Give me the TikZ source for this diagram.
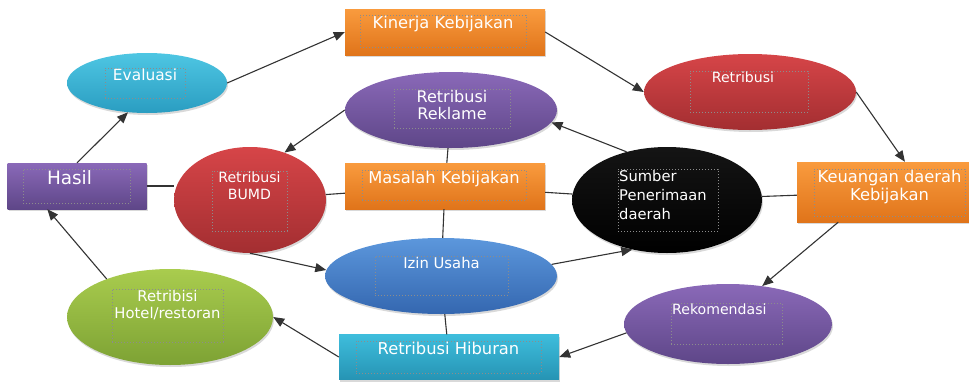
\documentclass[tikz,border=0pt]{standalone}
\usepackage{fontspec}
\setmainfont{DejaVu Sans}
\usetikzlibrary{arrows.meta,shapes.geometric,shadows}

\definecolor{orangeT}{HTML}{F99B3E}
\definecolor{orangeB}{HTML}{E0741A}
\definecolor{cyanT}{HTML}{4EC6E3}
\definecolor{cyanB}{HTML}{2A9DC1}
\definecolor{purpT}{HTML}{8A69B8}
\definecolor{purpB}{HTML}{5E4688}
\definecolor{redT}{HTML}{D64548}
\definecolor{redB}{HTML}{A32E31}
\definecolor{blueT}{HTML}{5C97DC}
\definecolor{blueB}{HTML}{3467B0}
\definecolor{greenT}{HTML}{A9CC4E}
\definecolor{greenB}{HTML}{7DA234}
\definecolor{hibT}{HTML}{3EBDDC}
\definecolor{hibB}{HTML}{2694B4}

\begin{document}
\begin{tikzpicture}[->,>={Triangle[length=11pt,width=9pt]},x=1pt,y=-1pt]
\tikzstyle{every edge}=[draw=black!80,line width=1.1pt]
\tikzstyle{box}=[rectangle,inner sep=0pt,drop shadow={opacity=.3,shadow xshift=1pt,shadow yshift=-2pt}]
\tikzstyle{oval}=[ellipse,inner sep=0pt,drop shadow={opacity=.3,shadow xshift=1pt,shadow yshift=-2pt}]
\tikzstyle{tbox}=[rectangle,inner sep=0pt,draw=black!45,dotted,line width=1pt]
\tikzstyle{lbl}=[anchor=north,inner sep=1.5pt,text=white,align=center]
\tikzstyle{bigtxt}=[font=\fontsize{16.3}{17.6}\selectfont]
\tikzstyle{midtxt}=[font=\fontsize{14.8}{17.5}\selectfont]
\tikzstyle{smalltxt}=[font=\fontsize{14.1}{17}\selectfont]

\useasboundingbox (0,0) rectangle (969,383);

% shapes
\node[box,top color=orangeT,bottom color=orangeB,minimum width=200pt,minimum height=46pt] (kinerja) at (445,32) {};
\node[oval,top color=cyanT,bottom color=cyanB,minimum width=160pt,minimum height=60pt] (evaluasi) at (147,83) {};
\node[oval,top color=purpT,bottom color=purpB,minimum width=212pt,minimum height=76pt] (reklame) at (451,110) {};
\node[oval,top color=redT,bottom color=redB,minimum width=212pt,minimum height=76pt] (retribusi) at (750,92) {};
\node[box,top color=purpT,bottom color=purpB,minimum width=139pt,minimum height=46pt] (hasil) at (77,186) {};
\node[oval,top color=redT,bottom color=redB,minimum width=152pt,minimum height=106pt] (bumd) at (250,200) {};
\node[box,top color=orangeT,bottom color=orangeB,minimum width=200pt,minimum height=46pt] (masalah) at (445,186) {};
\node[oval,top color=black!92,bottom color=black,minimum width=190pt,minimum height=106pt] (sumber) at (667,200) {};
\node[box,top color=orangeT,bottom color=orangeB,minimum width=172pt,minimum height=60pt] (keuangan) at (883,192) {};
\node[oval,top color=blueT,bottom color=blueB,minimum width=232pt,minimum height=76pt] (izin) at (441,276) {};
\node[oval,top color=greenT,bottom color=greenB,minimum width=206pt,minimum height=96pt] (hotel) at (170,317) {};
\node[box,top color=hibT,bottom color=hibB,minimum width=220pt,minimum height=45pt] (hiburan) at (449,357) {};
\node[oval,top color=purpT,bottom color=purpB,minimum width=208pt,minimum height=80pt] (rekomendasi) at (728,324) {};

% text boxes
\node[tbox,minimum width=166pt,minimum height=32pt,label={[lbl,bigtxt]north:Kinerja Kebijakan}] (kinerja-t) at (443,31) {};
\node[tbox,minimum width=80pt,minimum height=30pt,label={[lbl,font=\fontsize{15.4}{17}\selectfont]north:Evaluasi}] (evaluasi-t) at (145,83) {};
\node[tbox,minimum width=116pt,minimum height=39pt,label={[lbl,font=\fontsize{16}{17}\selectfont]north:Retribusi\\Reklame}] (reklame-t) at (452,108.5) {};
\node[tbox,minimum width=118pt,minimum height=41pt,label={[lbl,smalltxt,xshift=-6pt]north:Retribusi}] (retribusi-t) at (749,91.5) {};
\node[tbox,minimum width=107pt,minimum height=34pt,label={[lbl,font=\fontsize{18.4}{20}\selectfont,xshift=-7pt]north:Hasil}] (hasil-t) at (76.5,186) {};
\node[tbox,minimum width=75pt,minimum height=60pt,label={[lbl,smalltxt]north:Retribusi\\BUMD}] (bumd-t) at (249.5,201) {};
\node[tbox,minimum width=164pt,minimum height=30pt,label={[lbl,bigtxt]north:Masalah Kebijakan}] (masalah-t) at (444,185) {};
\node[tbox,minimum width=100pt,minimum height=62pt,label={[lbl,anchor=north west,align=left,font=\fontsize{14.7}{19}\selectfont]north west:Sumber\\Penerimaan\\daerah}] (sumber-t) at (668,200) {};
\node[tbox,minimum width=151pt,minimum height=47pt,label={[lbl,bigtxt]north:Keuangan daerah\\Kebijakan}] (keuangan-t) at (889.5,192.5) {};
\node[tbox,minimum width=133pt,minimum height=39pt,label={[lbl,midtxt]north:Izin Usaha}] (izin-t) at (441.5,275.5) {};
\node[tbox,minimum width=111pt,minimum height=53pt,label={[lbl,midtxt]north:Retribisi\\Hotel/restoran}] (hotel-t) at (167.5,315.5) {};
\node[tbox,minimum width=185pt,minimum height=32pt,label={[lbl,bigtxt]north:Retribusi Hiburan}] (hiburan-t) at (448.5,357) {};
\node[tbox,minimum width=111pt,minimum height=41pt,label={[lbl,smalltxt,anchor=north west]north west:Rekomendasi}] (rekomendasi-t) at (726.5,323.5) {};

% connectors
\path (evaluasi.east)    edge (kinerja.west)
      (kinerja.east)     edge (retribusi.west)
      (retribusi.east)   edge (keuangan.54)
      (keuangan.214)     edge (rekomendasi.48)
      (rekomendasi.185)  edge (hiburan.east)
      (hiburan.west)     edge (hotel.east)
      (hotel.149)        edge (hasil.218)
      (hasil.north)      edge (evaluasi.237)
      (reklame.west)     edge (bumd.54)
      (sumber.130)       edge (reklame.353)
      (bumd.south)       edge (izin.177)
      (izin.6)           edge (sumber.235)
      (hasil.east)       edge[-] (hasil.east -| bumd.west)
      (bumd)             edge[-] (masalah)
      (masalah)          edge[-] (sumber)
      (sumber)           edge[-] (keuangan)
      (reklame)          edge[-] (masalah)
      (masalah)          edge[-] (izin)
      (izin)             edge[-] (hiburan);

\end{tikzpicture}
\end{document}
